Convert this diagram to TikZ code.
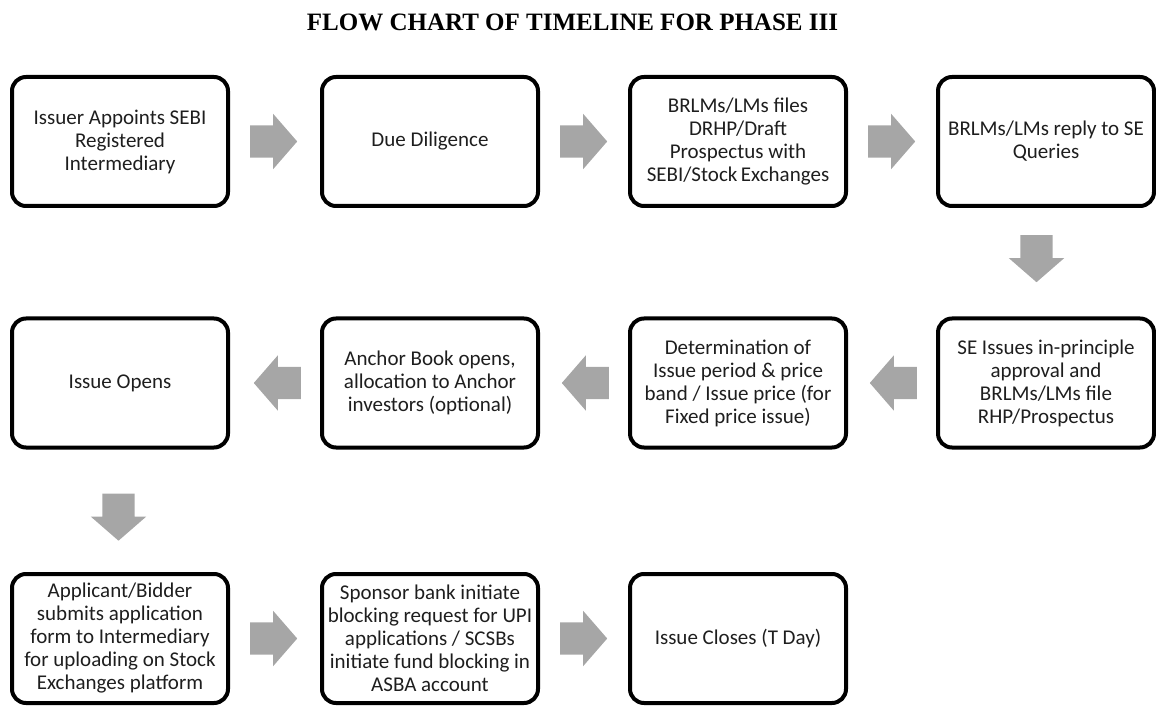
\documentclass[tikz,border=0pt]{standalone}
\usepackage{fontspec}
\setmainfont{Carlito}
\newfontfamily\titlefont{Liberation Serif}
\usetikzlibrary{shapes.arrows,calc}
\definecolor{arrowgray}{HTML}{A6A6A6}
\definecolor{boxtext}{HTML}{1E1E1E}

\begin{document}
\begin{tikzpicture}[x=1pt,y=1pt,
		stepbox/.style={
			draw,
			rectangle,
			rounded corners=14pt,
			line width=4pt,
			minimum width=216pt,
			minimum height=129pt,
			align=center,
			inner sep=2pt,
			text=boxtext,
			font=\fontsize{21}{23}\selectfont
		},
		flowarrow/.style={
			single arrow,
			fill=arrowgray,
			draw=none,
			minimum height=47pt,
			minimum width=55pt,
			single arrow head extend=11.5pt,
			single arrow tip angle=98,
			inner xsep=0pt,
			inner ysep=16pt,
			anchor=tail
		}]
		\useasboundingbox (0,0) rectangle (1156,705);
		
		\node[font=\titlefont\bfseries\fontsize{25}{30}\selectfont] (title) at (572.5,683) {FLOW CHART OF TIMELINE FOR PHASE III};
		
		% row 1
		\node[stepbox] (b1) at (120,563.5) {Issuer Appoints SEBI\\Registered\\Intermediary};
		\node[stepbox] (b2) at (430,563.5) {Due Diligence};
		\node[stepbox] (b3) at (738,563.5) {BRLMs/LMs files\\DRHP/Draft\\Prospectus with\\SEBI/Stock\,Exchanges};
		\node[stepbox] (b4) at (1046,563.5) {BRLMs/LMs reply to SE\\Queries};
		
		% row 2
		\node[stepbox] (b5) at (1046,322) {SE Issues in-principle\\approval and\\BRLMs/LMs file\\RHP/Prospectus};
		\node[stepbox] (b6) at (738,322) {Determination of\\Issue period \& price\\band / Issue price (for\\Fixed price issue)};
		\node[stepbox] (b7) at (430,322) {Anchor Book opens,\\allocation to Anchor\\investors (optional)};
		\node[stepbox] (b8) at (120,322) {Issue Opens};
		
		% row 3
		\node[stepbox] (b9) at (120,66.5) {Applicant/Bidder\\submits application\\form to Intermediary\\for uploading on Stock\\Exchanges platform};
		\node[stepbox] (b10) at (430,66.5) {Sponsor bank initiate\\blocking request for UPI\\applications / SCSBs\\initiate fund blocking in\\ASBA account};
		\node[stepbox] (b11) at (738,66.5) {Issue Closes (T Day)};
		
		% arrows
		\node[flowarrow] (a12) at ($(b1.east)+(20,0)$) {};
		\node[flowarrow] (a23) at ($(b2.east)+(20,0)$) {};
		\node[flowarrow] (a34) at ($(b3.east)+(20,0)$) {};
		\node[flowarrow, rotate=-90] (a45) at ($(b4.south)+(-9.5,-27)$) {};
		\node[flowarrow, rotate=180] (a56) at ($(b5.west)+(-19,0)$) {};
		\node[flowarrow, rotate=180] (a67) at ($(b6.west)+(-19,0)$) {};
		\node[flowarrow, rotate=180] (a78) at ($(b7.west)+(-19,0)$) {};
		\node[flowarrow, rotate=-90] (a89) at ($(b8.south)+(-1.5,-44)$) {};
		\node[flowarrow] (a910) at ($(b9.east)+(20,0)$) {};
		\node[flowarrow] (a1011) at ($(b10.east)+(20,0)$) {};
	\end{tikzpicture}
\end{document}
